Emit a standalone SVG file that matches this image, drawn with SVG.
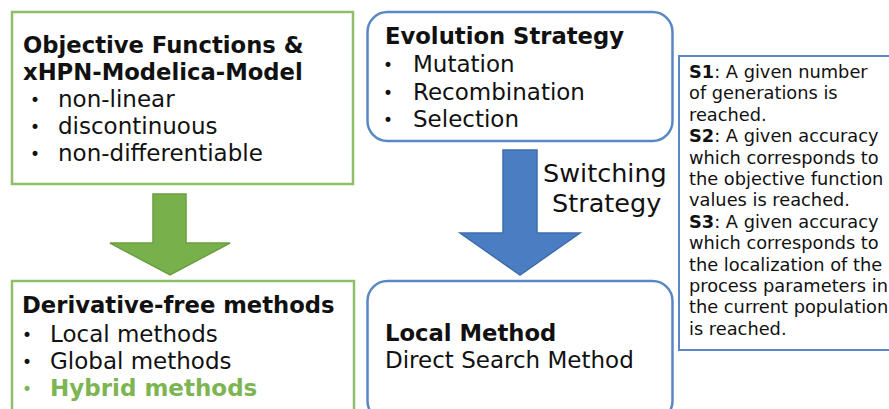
<svg xmlns="http://www.w3.org/2000/svg" width="889" height="409" viewBox="0 0 889 409">
<style>
text{font-family:"DejaVu Sans",Verdana,sans-serif;fill:#111}
.t{font-weight:bold;font-size:22.7px}
.b{font-size:23px}
.d{font-size:17px;text-anchor:middle}
.s{font-size:17.8px}
.sw{font-size:25.5px}
.g{fill:none;stroke:#8FBE68;stroke-width:2.5}
.bl{fill:none;stroke:#5A87C6;stroke-width:2.5}
</style>
<rect width="889" height="409" fill="#fff"/>
<g id="connectors">
<polygon points="153,194 186,194 186,243 230,243 170,275 110,243 153,243" fill="#78B04B" stroke="#6A9E40" stroke-width="1.5"/>
<polygon points="503,150 537,150 537,233 580,233 520,275 460,233 503,233" fill="#4B7DC2" stroke="#3E6DAD" stroke-width="1.5"/>
<g id="switching">
<text class="sw" x="543" y="182">Switching</text>
<text class="sw" x="552" y="212">Strategy</text>
</g>
</g>
<g id="objective">
<rect class="g" x="12" y="12" width="341" height="172"/>
<text class="t" x="23" y="53">Objective Functions &amp;</text>
<text class="t" x="23" y="80">xHPN-Modelica-Model</text>
<text class="d" x="35" y="106">•</text><text class="b" x="58" y="107">non-linear</text>
<text class="d" x="35" y="133">•</text><text class="b" x="58" y="134">discontinuous</text>
<text class="d" x="35" y="160">•</text><text class="b" x="58" y="161">non-differentiable</text>
</g>
<g id="evolution">
<rect class="bl" x="367.5" y="12" width="305" height="129" rx="20"/>
<text class="t" x="385" y="44">Evolution Strategy</text>
<text class="d" x="388" y="71">•</text><text class="b" x="413" y="72">Mutation</text>
<text class="d" x="388" y="99">•</text><text class="b" x="413" y="100">Recombination</text>
<text class="d" x="388" y="126">•</text><text class="b" x="413" y="127">Selection</text>
</g>
<g id="derivative">
<rect class="g" x="12" y="281" width="342" height="140"/>
<text class="t" x="22" y="313">Derivative-free methods</text>
<text class="d" x="27" y="341">•</text><text class="b" x="50" y="342">Local methods</text>
<text class="d" x="27" y="368">•</text><text class="b" x="50" y="369">Global methods</text>
<text class="d" x="27" y="395" style="fill:#7DB553">•</text><text class="b" x="50" y="396" style="fill:#7DB553;font-weight:bold">Hybrid methods</text>
</g>
<g id="local">
<rect class="bl" x="367.5" y="281" width="305" height="140" rx="20"/>
<text class="t" x="385" y="341">Local Method</text>
<text class="b" x="385" y="368">Direct Search Method</text>
</g>
<g id="criteria">
<rect x="679" y="56" width="225" height="294" fill="none" stroke="#5A87C6" stroke-width="2"/>
<text class="s" x="689" y="78"><tspan font-weight="bold">S1</tspan>: A given number</text>
<text class="s" x="689" y="99.4">of generations is</text>
<text class="s" x="689" y="120.8">reached.</text>
<text class="s" x="689" y="142.2"><tspan font-weight="bold">S2</tspan>: A given accuracy</text>
<text class="s" x="689" y="163.6">which corresponds to</text>
<text class="s" x="689" y="185">the objective function</text>
<text class="s" x="689" y="206.4">values is reached.</text>
<text class="s" x="689" y="227.8"><tspan font-weight="bold">S3</tspan>: A given accuracy</text>
<text class="s" x="689" y="249.2">which corresponds to</text>
<text class="s" x="689" y="270.6">the localization of the</text>
<text class="s" x="689" y="292">process parameters in</text>
<text class="s" x="689" y="313.4">the current population</text>
<text class="s" x="689" y="334.8">is reached.</text>
</g>
</svg>
